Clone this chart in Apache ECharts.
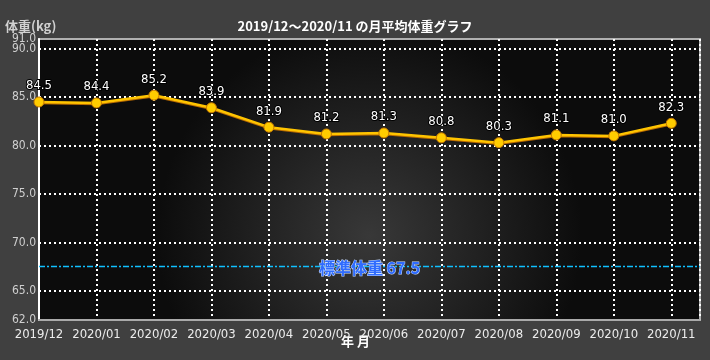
<!DOCTYPE html>
<html><head><meta charset="utf-8">
<script src="https://cdn.jsdelivr.net/npm/echarts@6/dist/echarts.min.js"></script>
<style>html,body{margin:0;padding:0;background:#404040;}#c{width:710px;height:360px;}</style>
</head><body><div id="c"></div>
<script>
const months = ['2019/12','2020/01','2020/02','2020/03','2020/04','2020/05','2020/06','2020/07','2020/08','2020/09','2020/10','2020/11'];
const weights = [84.5, 84.4, 85.2, 83.9, 81.9, 81.2, 81.3, 80.8, 80.3, 81.1, 81.0, 82.3];
const yTicks = [62, 65, 70, 75, 80, 85, 90];
const yTopTick = [91];
const gridValues = [65, 70, 75, 80, 85, 90];
const standardWeight = 67.5;
const titleText = '2019/12～2020/11 の月平均体重グラフ';

const font = '"Liberation Sans Narrow", "DejaVu Sans Condensed", "Noto Sans CJK JP", sans-serif';
const chart = echarts.init(document.getElementById('c'), null, {renderer: 'canvas'});
const dotted = {color: '#ffffff', width: 2, type: [2, 3]};
const yLabelBase = {color: '#cfcfcf', fontSize: 12, fontFamily: font, margin: 3, padding: [3, 0, 0, 0],
  showMaxLabel: true, showMinLabel: true, hideOverlap: false, formatter: v => v.toFixed(1)};
chart.setOption({
  backgroundColor: '#404040',
  animation: false,
  title: {
    text: titleText, left: 'center', top: 15,
    textStyle: {color: '#ffffff', fontSize: 13, fontWeight: 'bold', fontFamily: '"Noto Sans CJK JP", sans-serif'}
  },
  graphic: [
    {type: 'text', left: 5, top: 20, style: {text: '体重(kg)', fill: '#d0d0d0', font: 'bold 13px "Noto Sans CJK JP", sans-serif'}},
    {type: 'text', left: 341, top: 335, style: {text: '年 月', fill: '#ffffff', font: 'bold 13px "Noto Sans CJK JP", sans-serif'}}
  ],
  grid: {
    left: 39, right: 10, top: 39, bottom: 40, show: true,
    borderColor: '#b0b0b0', borderWidth: 2,
    backgroundColor: {
      type: 'radial', x: 0.5, y: 0.7, r: 0.75,
      colorStops: [{offset: 0, color: '#383838'}, {offset: 1, color: '#0c0c0c'}]
    }
  },
  xAxis: {
    type: 'value', min: 0, max: 11.5, interval: 1,
    axisLine: {show: true, lineStyle: {color: '#aaaaaa', width: 2}},
    axisTick: {show: false},
    axisLabel: {
      color: '#ececec', fontSize: 13, fontFamily: font, margin: 8,
      showMaxLabel: false,
      formatter: v => Number.isInteger(v) ? months[v] : ''
    },
    splitLine: {show: true, lineStyle: dotted}
  },
  yAxis: [
    {
      type: 'value', min: 62, max: 91,
      axisLine: {show: true, lineStyle: {color: '#ffffff', width: 2}},
      axisTick: {show: false},
      splitLine: {show: false},
      axisLabel: Object.assign({customValues: yTicks}, yLabelBase)
    },
    {
      type: 'value', min: 62, max: 91, position: 'left',
      axisLine: {show: false}, axisTick: {show: false}, splitLine: {show: false},
      axisLabel: Object.assign({customValues: yTopTick}, yLabelBase)
    }
  ],
  series: [
    {
      type: 'line', data: [], z: 1, silent: true,
      markLine: {
        symbol: 'none', silent: true, animation: false,
        label: {show: false},
        lineStyle: dotted,
        data: gridValues.map(v => ({yAxis: v}))
      }
    },
    {
      type: 'line', z: 5,
      data: weights.map((w, i) => [i, w]),
      symbol: 'circle', symbolSize: 10,
      lineStyle: {color: '#ffc400', width: 2.5, shadowColor: '#b86a00', shadowBlur: 0, shadowOffsetY: 1},
      itemStyle: {color: '#ffcc00', borderColor: '#c77a00', borderWidth: 1},
      label: {
        show: true, position: 'top', distance: 4,
        formatter: p => p.value[1].toFixed(1),
        color: '#ffffff', fontSize: 13, fontFamily: font,
        textBorderColor: '#000000', textBorderWidth: 2
      },
      markLine: {
        symbol: 'none', silent: true, animation: false,
        lineStyle: {color: '#10c0ff', width: 1.4, type: [6, 2, 2, 2], opacity: 1, shadowBlur: 0, shadowOffsetY: 0},
        label: {
          show: true, position: 'middle', distance: -9,
          formatter: '標準体重 ' + standardWeight,
          color: '#2f6cff', fontSize: 16, fontWeight: 'bold',
          fontFamily: '"Noto Sans CJK JP", sans-serif',
          textBorderColor: '#c8dcff', textBorderWidth: 1
        },
        emphasis: {disabled: true},
        data: [{yAxis: standardWeight}]
      }
    }
  ]
});
</script></body></html>
